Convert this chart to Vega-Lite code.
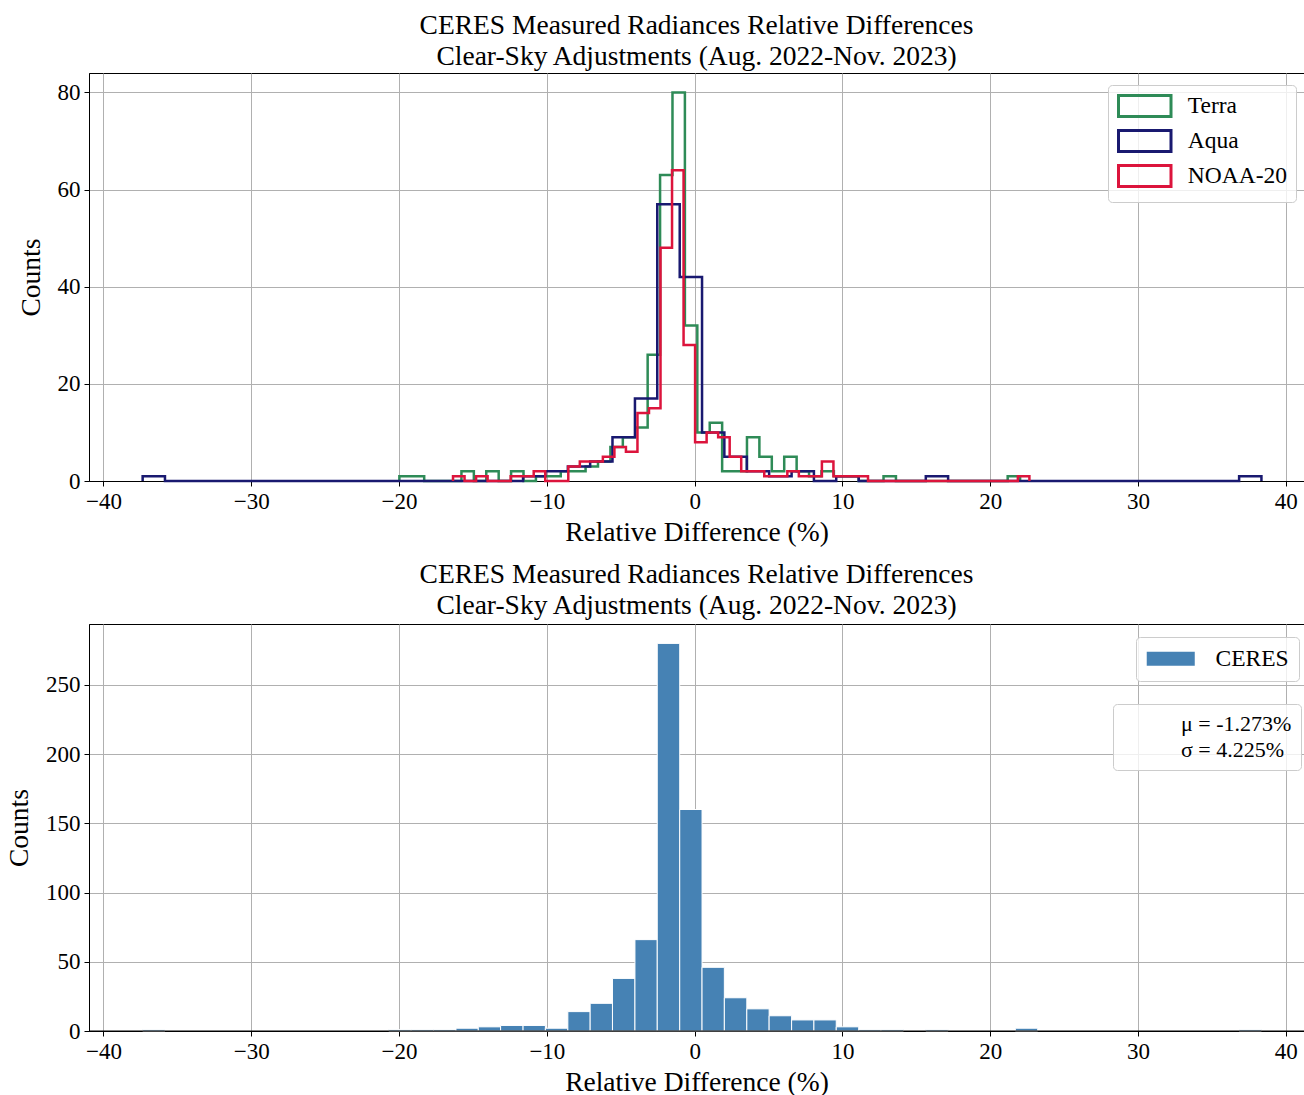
{
  "$schema": "https://vega.github.io/schema/vega-lite/v6.json",
  "padding": {"left": 5, "top": 11, "right": 0, "bottom": 0},
  "spacing": 14,
  "resolve": {"scale": {"color": "independent", "shape": "independent"}, "legend": {"color": "independent", "shape": "independent"}},
  "config": {
    "font": "Liberation Serif",
    "view": {"stroke": "black", "strokeWidth": 1},
    "axis": {
      "labelFont": "Liberation Serif", "labelFontSize": 23, "labelColor": "black",
      "titleFont": "Liberation Serif", "titleFontSize": 27.5, "titleFontWeight": "normal", "titleColor": "black",
      "domainColor": "black", "tickColor": "black", "tickSize": 5, "labelPadding": 4,
      "gridColor": "#b0b0b0", "gridWidth": 1, "gridOpacity": 1, "labelFlush": false
    },
    "axisY": {"titlePadding": 12},
    "axisX": {"titlePadding": 5},
    "title": {"font": "Liberation Serif", "fontSize": 27.5, "fontWeight": "normal", "color": "black", "anchor": "middle", "frame": "group", "lineHeight": 31, "offset": 3},
    "legend": {"labelFont": "Liberation Serif", "labelColor": "black", "strokeColor": "#cccccc", "fillColor": "rgba(255,255,255,0.8)", "cornerRadius": 4, "title": null}
  },
  "datasets": {
    "sat": [
      {"series": "Terra", "edge": -19.98, "count": 0},
      {"series": "Terra", "edge": -19.98, "count": 1},
      {"series": "Terra", "edge": -19.14, "count": 1},
      {"series": "Terra", "edge": -18.30, "count": 0},
      {"series": "Terra", "edge": -17.46, "count": 0},
      {"series": "Terra", "edge": -16.62, "count": 0},
      {"series": "Terra", "edge": -15.78, "count": 2},
      {"series": "Terra", "edge": -14.94, "count": 0},
      {"series": "Terra", "edge": -14.10, "count": 2},
      {"series": "Terra", "edge": -13.26, "count": 0},
      {"series": "Terra", "edge": -12.42, "count": 2},
      {"series": "Terra", "edge": -11.58, "count": 0},
      {"series": "Terra", "edge": -10.74, "count": 1},
      {"series": "Terra", "edge": -9.90, "count": 1},
      {"series": "Terra", "edge": -9.06, "count": 2},
      {"series": "Terra", "edge": -8.22, "count": 2},
      {"series": "Terra", "edge": -7.38, "count": 3},
      {"series": "Terra", "edge": -6.54, "count": 4},
      {"series": "Terra", "edge": -5.70, "count": 7},
      {"series": "Terra", "edge": -4.86, "count": 9},
      {"series": "Terra", "edge": -4.02, "count": 11},
      {"series": "Terra", "edge": -3.18, "count": 26},
      {"series": "Terra", "edge": -2.34, "count": 63},
      {"series": "Terra", "edge": -1.50, "count": 80},
      {"series": "Terra", "edge": -0.66, "count": 32},
      {"series": "Terra", "edge": 0.18, "count": 10},
      {"series": "Terra", "edge": 1.02, "count": 12},
      {"series": "Terra", "edge": 1.86, "count": 2},
      {"series": "Terra", "edge": 2.70, "count": 2},
      {"series": "Terra", "edge": 3.54, "count": 9},
      {"series": "Terra", "edge": 4.38, "count": 5},
      {"series": "Terra", "edge": 5.22, "count": 2},
      {"series": "Terra", "edge": 6.06, "count": 5},
      {"series": "Terra", "edge": 6.90, "count": 2},
      {"series": "Terra", "edge": 7.74, "count": 1},
      {"series": "Terra", "edge": 8.58, "count": 2},
      {"series": "Terra", "edge": 9.42, "count": 1},
      {"series": "Terra", "edge": 10.26, "count": 1},
      {"series": "Terra", "edge": 11.10, "count": 0},
      {"series": "Terra", "edge": 11.94, "count": 0},
      {"series": "Terra", "edge": 12.78, "count": 1},
      {"series": "Terra", "edge": 13.62, "count": 0},
      {"series": "Terra", "edge": 14.46, "count": 0},
      {"series": "Terra", "edge": 15.30, "count": 0},
      {"series": "Terra", "edge": 16.14, "count": 0},
      {"series": "Terra", "edge": 16.98, "count": 0},
      {"series": "Terra", "edge": 17.82, "count": 0},
      {"series": "Terra", "edge": 18.66, "count": 0},
      {"series": "Terra", "edge": 19.50, "count": 0},
      {"series": "Terra", "edge": 20.34, "count": 0},
      {"series": "Terra", "edge": 21.18, "count": 1},
      {"series": "Terra", "edge": 22.02, "count": 0},
      {"series": "Aqua", "edge": -37.35, "count": 0},
      {"series": "Aqua", "edge": -37.35, "count": 1},
      {"series": "Aqua", "edge": -35.84, "count": 0},
      {"series": "Aqua", "edge": -34.32, "count": 0},
      {"series": "Aqua", "edge": -32.81, "count": 0},
      {"series": "Aqua", "edge": -31.29, "count": 0},
      {"series": "Aqua", "edge": -29.78, "count": 0},
      {"series": "Aqua", "edge": -28.27, "count": 0},
      {"series": "Aqua", "edge": -26.75, "count": 0},
      {"series": "Aqua", "edge": -25.24, "count": 0},
      {"series": "Aqua", "edge": -23.72, "count": 0},
      {"series": "Aqua", "edge": -22.21, "count": 0},
      {"series": "Aqua", "edge": -20.70, "count": 0},
      {"series": "Aqua", "edge": -19.18, "count": 0},
      {"series": "Aqua", "edge": -17.67, "count": 0},
      {"series": "Aqua", "edge": -16.15, "count": 0},
      {"series": "Aqua", "edge": -14.64, "count": 0},
      {"series": "Aqua", "edge": -13.13, "count": 0},
      {"series": "Aqua", "edge": -11.61, "count": 1},
      {"series": "Aqua", "edge": -10.10, "count": 2},
      {"series": "Aqua", "edge": -8.58, "count": 3},
      {"series": "Aqua", "edge": -7.07, "count": 4},
      {"series": "Aqua", "edge": -5.56, "count": 9},
      {"series": "Aqua", "edge": -4.04, "count": 17},
      {"series": "Aqua", "edge": -2.53, "count": 57},
      {"series": "Aqua", "edge": -1.01, "count": 42},
      {"series": "Aqua", "edge": 0.50, "count": 10},
      {"series": "Aqua", "edge": 2.01, "count": 5},
      {"series": "Aqua", "edge": 3.53, "count": 2},
      {"series": "Aqua", "edge": 5.04, "count": 1},
      {"series": "Aqua", "edge": 6.56, "count": 2},
      {"series": "Aqua", "edge": 8.07, "count": 0},
      {"series": "Aqua", "edge": 9.58, "count": 1},
      {"series": "Aqua", "edge": 11.10, "count": 0},
      {"series": "Aqua", "edge": 12.61, "count": 0},
      {"series": "Aqua", "edge": 14.13, "count": 0},
      {"series": "Aqua", "edge": 15.64, "count": 1},
      {"series": "Aqua", "edge": 17.15, "count": 0},
      {"series": "Aqua", "edge": 18.67, "count": 0},
      {"series": "Aqua", "edge": 20.18, "count": 0},
      {"series": "Aqua", "edge": 21.70, "count": 0},
      {"series": "Aqua", "edge": 23.21, "count": 0},
      {"series": "Aqua", "edge": 24.72, "count": 0},
      {"series": "Aqua", "edge": 26.24, "count": 0},
      {"series": "Aqua", "edge": 27.75, "count": 0},
      {"series": "Aqua", "edge": 29.27, "count": 0},
      {"series": "Aqua", "edge": 30.78, "count": 0},
      {"series": "Aqua", "edge": 32.29, "count": 0},
      {"series": "Aqua", "edge": 33.81, "count": 0},
      {"series": "Aqua", "edge": 35.32, "count": 0},
      {"series": "Aqua", "edge": 36.84, "count": 1},
      {"series": "Aqua", "edge": 38.35, "count": 0},
      {"series": "NOAA-20", "edge": -16.35, "count": 0},
      {"series": "NOAA-20", "edge": -16.35, "count": 1},
      {"series": "NOAA-20", "edge": -15.57, "count": 0},
      {"series": "NOAA-20", "edge": -14.79, "count": 1},
      {"series": "NOAA-20", "edge": -14.01, "count": 0},
      {"series": "NOAA-20", "edge": -13.23, "count": 0},
      {"series": "NOAA-20", "edge": -12.45, "count": 1},
      {"series": "NOAA-20", "edge": -11.67, "count": 1},
      {"series": "NOAA-20", "edge": -10.89, "count": 2},
      {"series": "NOAA-20", "edge": -10.11, "count": 0},
      {"series": "NOAA-20", "edge": -9.33, "count": 0},
      {"series": "NOAA-20", "edge": -8.55, "count": 3},
      {"series": "NOAA-20", "edge": -7.77, "count": 4},
      {"series": "NOAA-20", "edge": -6.99, "count": 4},
      {"series": "NOAA-20", "edge": -6.21, "count": 5},
      {"series": "NOAA-20", "edge": -5.43, "count": 7},
      {"series": "NOAA-20", "edge": -4.65, "count": 6},
      {"series": "NOAA-20", "edge": -3.87, "count": 14},
      {"series": "NOAA-20", "edge": -3.09, "count": 15},
      {"series": "NOAA-20", "edge": -2.31, "count": 48},
      {"series": "NOAA-20", "edge": -1.53, "count": 64},
      {"series": "NOAA-20", "edge": -0.75, "count": 28},
      {"series": "NOAA-20", "edge": 0.03, "count": 8},
      {"series": "NOAA-20", "edge": 0.81, "count": 10},
      {"series": "NOAA-20", "edge": 1.59, "count": 9},
      {"series": "NOAA-20", "edge": 2.37, "count": 5},
      {"series": "NOAA-20", "edge": 3.15, "count": 2},
      {"series": "NOAA-20", "edge": 3.93, "count": 2},
      {"series": "NOAA-20", "edge": 4.71, "count": 1},
      {"series": "NOAA-20", "edge": 5.49, "count": 1},
      {"series": "NOAA-20", "edge": 6.27, "count": 2},
      {"series": "NOAA-20", "edge": 7.05, "count": 1},
      {"series": "NOAA-20", "edge": 7.83, "count": 1},
      {"series": "NOAA-20", "edge": 8.61, "count": 4},
      {"series": "NOAA-20", "edge": 9.39, "count": 1},
      {"series": "NOAA-20", "edge": 10.17, "count": 1},
      {"series": "NOAA-20", "edge": 10.95, "count": 1},
      {"series": "NOAA-20", "edge": 11.73, "count": 0},
      {"series": "NOAA-20", "edge": 12.51, "count": 0},
      {"series": "NOAA-20", "edge": 13.29, "count": 0},
      {"series": "NOAA-20", "edge": 14.07, "count": 0},
      {"series": "NOAA-20", "edge": 14.85, "count": 0},
      {"series": "NOAA-20", "edge": 15.63, "count": 0},
      {"series": "NOAA-20", "edge": 16.41, "count": 0},
      {"series": "NOAA-20", "edge": 17.19, "count": 0},
      {"series": "NOAA-20", "edge": 17.97, "count": 0},
      {"series": "NOAA-20", "edge": 18.75, "count": 0},
      {"series": "NOAA-20", "edge": 19.53, "count": 0},
      {"series": "NOAA-20", "edge": 20.31, "count": 0},
      {"series": "NOAA-20", "edge": 21.09, "count": 0},
      {"series": "NOAA-20", "edge": 21.87, "count": 1},
      {"series": "NOAA-20", "edge": 22.65, "count": 0}
    ],
    "ceres": [
      {"series": "CERES", "bin_start": -37.35, "bin_end": -35.84, "count": 1},
      {"series": "CERES", "bin_start": -20.70, "bin_end": -19.18, "count": 1},
      {"series": "CERES", "bin_start": -19.18, "bin_end": -17.67, "count": 1},
      {"series": "CERES", "bin_start": -17.67, "bin_end": -16.15, "count": 1},
      {"series": "CERES", "bin_start": -16.15, "bin_end": -14.64, "count": 2},
      {"series": "CERES", "bin_start": -14.64, "bin_end": -13.13, "count": 3},
      {"series": "CERES", "bin_start": -13.13, "bin_end": -11.61, "count": 4},
      {"series": "CERES", "bin_start": -11.61, "bin_end": -10.10, "count": 4},
      {"series": "CERES", "bin_start": -10.10, "bin_end": -8.58, "count": 2},
      {"series": "CERES", "bin_start": -8.58, "bin_end": -7.07, "count": 14},
      {"series": "CERES", "bin_start": -7.07, "bin_end": -5.56, "count": 20},
      {"series": "CERES", "bin_start": -5.56, "bin_end": -4.04, "count": 38},
      {"series": "CERES", "bin_start": -4.04, "bin_end": -2.53, "count": 66},
      {"series": "CERES", "bin_start": -2.53, "bin_end": -1.01, "count": 280},
      {"series": "CERES", "bin_start": -1.01, "bin_end": 0.50, "count": 160},
      {"series": "CERES", "bin_start": 0.50, "bin_end": 2.01, "count": 46},
      {"series": "CERES", "bin_start": 2.01, "bin_end": 3.53, "count": 24},
      {"series": "CERES", "bin_start": 3.53, "bin_end": 5.04, "count": 16},
      {"series": "CERES", "bin_start": 5.04, "bin_end": 6.56, "count": 11},
      {"series": "CERES", "bin_start": 6.56, "bin_end": 8.07, "count": 8},
      {"series": "CERES", "bin_start": 8.07, "bin_end": 9.58, "count": 8},
      {"series": "CERES", "bin_start": 9.58, "bin_end": 11.10, "count": 3},
      {"series": "CERES", "bin_start": 11.10, "bin_end": 12.61, "count": 1},
      {"series": "CERES", "bin_start": 12.61, "bin_end": 14.13, "count": 1},
      {"series": "CERES", "bin_start": 15.64, "bin_end": 17.15, "count": 1},
      {"series": "CERES", "bin_start": 21.70, "bin_end": 23.21, "count": 2},
      {"series": "CERES", "bin_start": 36.84, "bin_end": 38.35, "count": 1}
    ],
    "stats": [
      {"stat": "μ = -1.273%"},
      {"stat": "σ = 4.225%"}
    ]
  },
  "vconcat": [
    {
      "title": {"text": ["CERES Measured Radiances Relative Differences", "Clear-Sky Adjustments (Aug. 2022-Nov. 2023)"]},
      "width": 1215,
      "height": 408,
      "data": {"name": "sat"},
      "mark": {"type": "line", "interpolate": "step-after", "strokeWidth": 2.5},
      "encoding": {
        "x": {"field": "edge", "type": "quantitative", "scale": {"domain": [-40.98, 41.23], "nice": false, "zero": false, "padding": 0},
              "axis": {"values": [-40, -30, -20, -10, 0, 10, 20, 30, 40], "title": "Relative Difference (%)"}},
        "y": {"field": "count", "type": "quantitative", "scale": {"domain": [0, 84], "nice": false},
              "axis": {"values": [0, 20, 40, 60, 80], "title": "Counts"}},
        "color": {"field": "series", "type": "nominal",
                  "scale": {"domain": ["Terra", "Aqua", "NOAA-20"], "range": ["#2e8b57", "#191970", "#dc143c"]},
                  "legend": {"orient": "none", "legendX": 1019, "legendY": 12, "symbolType": "M-2.5,-1H2.5V1H-2.5Z", "symbolSize": 441,
                             "symbolOffset": 15.75, "symbolStrokeWidth": 3, "symbolFillColor": "transparent", "labelFontSize": 23.5, "labelOffset": 31,
                             "rowPadding": 1, "padding": 9}}
      }
    },
    {
      "title": {"text": ["CERES Measured Radiances Relative Differences", "Clear-Sky Adjustments (Aug. 2022-Nov. 2023)"], "offset": 5},
      "width": 1215,
      "height": 407,
      "resolve": {"scale": {"color": "independent", "shape": "independent"}, "legend": {"color": "independent", "shape": "independent"}},
      "layer": [
        {
          "data": {"name": "ceres"},
          "mark": {"type": "bar", "stroke": "white", "strokeWidth": 1, "orient": "vertical"},
          "encoding": {
            "x": {"field": "bin_start", "type": "quantitative", "scale": {"domain": [-40.98, 41.23], "nice": false, "zero": false, "padding": 0},
                  "axis": {"values": [-40, -30, -20, -10, 0, 10, 20, 30, 40], "title": "Relative Difference (%)"}},
            "x2": {"field": "bin_end"},
            "y": {"field": "count", "type": "quantitative", "scale": {"domain": [0, 294], "nice": false, "padding": 0},
                  "axis": {"values": [0, 50, 100, 150, 200, 250], "title": "Counts"}},
            "y2": {"datum": 0},
            "color": {"field": "series", "type": "nominal", "scale": {"domain": ["CERES"], "range": ["#4682b4"]},
                      "legend": {"orient": "none", "legendX": 1047, "legendY": 13, "symbolType": "M-3.43,-1H3.43V1H-3.43Z", "symbolSize": 196,
                                 "symbolOffset": 13, "symbolStrokeWidth": 0, "labelFontSize": 23.5, "labelOffset": 33, "padding": 10}}
          }
        },
        {
          "data": {"values": [{"base": 0}]},
          "mark": {"type": "rule", "color": "black", "strokeWidth": 1},
          "encoding": {"y": {"field": "base", "type": "quantitative"}}
        },
        {
          "data": {"name": "stats"},
          "mark": {"type": "point", "opacity": 0},
          "encoding": {
            "shape": {"field": "stat", "type": "nominal",
                      "legend": {"orient": "none", "legendX": 1024, "legendY": 80, "symbolOpacity": 0, "symbolSize": 100,
                                 "labelFontSize": 22, "labelOffset": 37, "rowPadding": 4, "padding": 9}}
          }
        }
      ]
    }
  ]
}
